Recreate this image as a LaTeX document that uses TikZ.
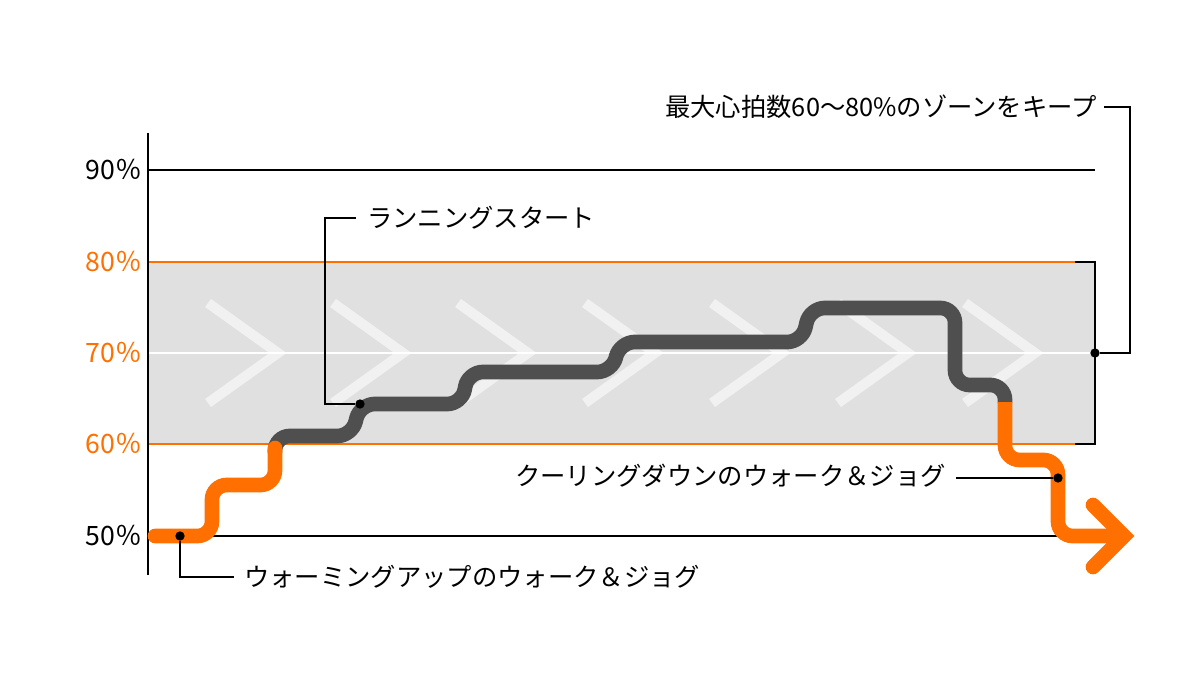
\documentclass[tikz,border=0pt]{standalone}
\usepackage{fontspec}
\setmainfont{Noto Sans CJK JP}
\begin{document}
\begin{tikzpicture}[x=0.75pt,y=-0.75pt,
  lbl/.style={font=\fontsize{19}{22}\selectfont,inner sep=0pt},
  pct/.style={font=\fontsize{20}{22}\selectfont,inner sep=0pt,anchor=east},
  chev/.style={white,opacity=0.55,line width=7.5pt},
  stairs/.style={line width=11pt,rounded corners=11pt},
  ann/.style={black,line width=1pt},
  blob/.style={circle,fill=black,inner sep=0pt,minimum size=7pt}]
\definecolor{org}{HTML}{FF7000}
\definecolor{dg}{HTML}{4F4F4F}
\definecolor{band}{HTML}{E0E0E0}
\useasboundingbox (0,0) rectangle (1200,688);
\fill[band] (148,262) rectangle (1095,444);
\draw[white,line width=0.8pt] (148,353) -- (1095,353);
\draw[line width=0.8pt] (148,170) -- (1095,170);
\draw[line width=0.8pt] (148,536) -- (1060,536);
\draw[org,line width=1.2pt] (148,262) -- (1095,262);
\draw[org,line width=1.2pt] (148,444) -- (1095,444);
\draw[line width=1.2pt] (148,133) -- (148,575);
\foreach \x in {208,333,458,585,712,838,965}
  \draw[chev] (\x,303) -- (\x+70,353) -- (\x,403);
\node[pct] (p90) at (142,170) {90％};
\node[pct,text=org] (p80) at (142,262) {80％};
\node[pct,text=org] (p70) at (142,353) {70％};
\node[pct,text=org] (p60) at (142,444) {60％};
\node[pct] (p50) at (142,536) {50％};
\draw[stairs,dg,line cap=round] (275,452) -- (275,436) -- (352,436) -- (360,404) -- (462,404) -- (468,372) -- (612,372) -- (620,342) -- (802,342) -- (810,308) -- (955,308) -- (955,385) -- (1005,385) -- (1005,402);
\draw[stairs,org,line cap=round] (155,536) -- (212,536) -- (212,485) -- (275,485) -- (275,448);
\draw[stairs,org] (1005,402) -- (1005,460) -- (1058,460) -- (1058,536) -- (1120,536);
\draw[org,line width=11pt,line cap=round,line join=miter] (1093,505) -- (1124,536) -- (1093,567);
\node[lbl,anchor=east] (tmax) at (1097,107) {最大心拍数60～80\%のゾーンをキープ};
\node[blob] (d1) at (1095,353) {};
\draw[ann] (1104,107) -- (1130,107) -- (1130,353) -- (d1);
\draw[ann] (1075,262) -- (1095,262) -- (1095,444) -- (1075,444);
\node[lbl,anchor=west] (tstart) at (367,218) {ランニングスタート};
\node[blob] (d2) at (360,404) {};
\draw[ann] (356,218) -- (325,218) -- (325,404) -- (d2);
\node[lbl,anchor=east] (tcool) at (946,476) {クーリングダウンのウォーク＆ジョグ};
\node[blob] (d3) at (1058,478) {};
\draw[ann] (956,478) -- (d3);
\node[lbl,anchor=west] (twarm) at (244,577) {ウォーミングアップのウォーク＆ジョグ};
\node[blob] (d4) at (180,536) {};
\draw[ann] (d4) -- (180,577) -- (234,577);
\end{tikzpicture}
\end{document}
